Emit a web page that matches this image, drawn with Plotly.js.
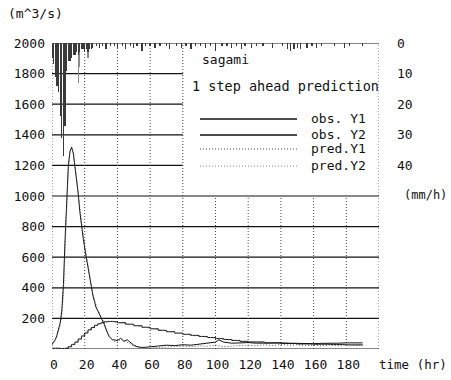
<!DOCTYPE html>
<html>
<head>
<meta charset="utf-8">
<script src="https://cdn.plot.ly/plotly-3.0.1.min.js"></script>
<style>
  html, body { margin: 0; padding: 0; background: #fff; }
  #chart { width: 451px; height: 380px; }
</style>
</head>
<body>
<div id="chart"></div>
<script>
// Sagami river flood event: discharge (m^3/s) and hourly rainfall (mm/h)

// observed discharge, upstream station Y1
const tY1 = [0,1,2,3,4,5,6,7,8,9,10,11,12,13,14,15,16,17,18,19,20,21,22,23,24,25,26,27,28,29,30,31,32,33,34,35,36,37,38,40,42,44,46,48,50,52,55,58,60,65,70,75,80,85,90,95,100,102,105,110,115,120,125,130,135,140,145,150,155,160,165,170,175,180,185,190];
const obsY1 = [30,45,60,90,130,170,250,420,720,1000,1200,1290,1320,1280,1200,1100,1020,900,800,730,660,600,530,460,400,350,310,270,250,230,210,190,160,130,100,80,70,60,60,55,70,50,60,40,25,15,10,12,15,20,25,22,28,25,32,35,45,60,45,38,40,42,38,40,42,40,38,36,38,35,37,36,38,40,40,40];

// one-step-ahead prediction for Y1
const tP1 = [0,1,2,3,4,5,6,7,8,9,10,11,12,13,14,15,16,17,18,19,20,21,22,23,24,25,26,27,28,29,30,31,32,33,34,35,36,37,38,40,42,44,46,48,50,55,60,65,70,75,80,85,90,95,100,105,110,115,120,125,130,135,140,145,150,155,160,165,170,175,180,185,190];
const predY1 = [25,40,55,80,120,160,220,360,640,950,1180,1300,1310,1290,1220,1120,1010,920,810,740,670,610,540,470,410,360,320,280,255,235,215,195,170,140,110,85,72,62,50,45,65,55,45,30,20,8,5,10,12,15,18,15,20,18,25,15,20,22,25,20,28,22,30,25,28,22,25,20,26,22,28,24,25];

// observed discharge, downstream station Y2
const tY2 = [0,5,8,10,12,14,16,18,20,22,24,26,28,30,32,34,36,38,40,45,50,55,60,65,70,75,80,85,90,95,100,105,110,115,120,130,140,150,160,170,180,190];
const obsY2 = [5,3,5,15,30,45,65,85,105,125,140,155,165,172,178,180,180,178,172,162,152,142,132,122,113,104,96,89,82,75,68,62,56,50,46,40,36,33,31,29,27,26];

// one-step-ahead prediction for Y2
const tP2 = [0,5,8,10,12,14,16,18,20,22,24,26,28,30,32,34,36,38,40,45,50,55,60,65,70,75,80,85,90,95,100,105,110,115,120,130,140,150,160,170,180,190];
const predY2 = [3,2,4,12,26,42,62,82,102,122,138,152,163,170,176,179,180,178,174,164,154,144,134,124,115,106,98,90,83,77,70,63,57,52,47,41,37,34,31,30,28,27];

// basin rainfall, gauge A (wet hours only)
const rainHourA = [0,1,2,3,4,5,6,7,8,9,10,11,12,13,14,15,16,17,18,19,20,21,22,23,24,25,27,29,31,33,36,38,40,43,45,48,50,52,55,57,60,63,66,70,72,76,79,82,85,88,91,94,97,100,104,107,110,113,116,118,122,125,129,135,141,144,146,148,150,152,156,159,162,165,173,179,182,190];
const rainDepthA = [5,7,11,14,16,24,31,37,27,9,6,6,5,4,4,3,4,3,2,2,3,2,3,2,2,1.5,1,1.5,1,2,1,1,1.5,1,2,1,1.5,1,2.5,1,1,1.5,1,1,2,1,1.5,1,2,1,1,1.5,1,2.5,1,1,1.5,1,2,1,1.5,1,1,1.5,1,2,2.5,2,1.5,2,1.5,1,1.5,1,1,1.5,1,1];

// basin rainfall, gauge B
const rainHourB = [3,4,5,6,16,17,22];
const rainDepthB = [9,12,15,20,13,8,5];

// axis ticks
const flowTicks = [0,200,400,600,800,1000,1200,1400,1600,1800,2000];
const flowLabels = ['','200','400','600','800','1000','1200','1400','1600','1800','2000'];
const timeTicks = [0,20,40,60,80,100,120,140,160,180,200];
const timeLabels = ['0','20','40','60','80','100','120','140','160','180',''];
const rainTicks = [0,10,20,30,40];

const FONT = 'DejaVu Sans Mono, Liberation Mono, monospace';
const INK = '#111';
const FINE_DOT = '1px,2px';

// plot-area pixel geometry helpers (paper coordinates)
const L = 52, T = 43, W = 327, H = 306;
const px = x => (x - L) / W;
const py = y => (T + H - y) / H;

// the note panel occupies the upper right of the plot: grid stops at its edges
const PANEL_T = 80;      // hours
const PANEL_Q = 1000;    // m^3/s

const traces = [
  {
    x: rainHourB, y: rainDepthB, type: 'bar', yaxis: 'y2',
    marker: { color: '#8a8a8a', line: { width: 0 } }, width: 0.7,
    hoverinfo: 'skip', showlegend: false
  },
  {
    x: rainHourA, y: rainDepthA, type: 'bar', yaxis: 'y2',
    marker: { color: '#3a3a3a', line: { width: 0 } }, width: 0.75,
    hoverinfo: 'skip', showlegend: false
  },
  {
    x: tY2, y: obsY2, type: 'scatter', mode: 'lines',
    line: { color: INK, width: 1, shape: 'hv' }, showlegend: false
  },
  {
    x: tP2, y: predY2, type: 'scatter', mode: 'lines',
    line: { color: '#777', width: 1, dash: FINE_DOT }, showlegend: false
  },
  {
    x: tY1, y: obsY1, type: 'scatter', mode: 'lines',
    line: { color: INK, width: 1 }, showlegend: false
  },
  {
    x: tP1, y: predY1, type: 'scatter', mode: 'lines',
    line: { color: '#555', width: 1, dash: FINE_DOT }, showlegend: false
  }
];

const shapes = [];

// horizontal grid (solid), cut at the panel
flowTicks.forEach(q => {
  const xEnd = (q > PANEL_Q && q < 2000) ? PANEL_T : 200;
  shapes.push({ type: 'line', xref: 'x', yref: 'y', x0: 0, x1: xEnd, y0: q, y1: q,
    line: { color: INK, width: 1.2 }, layer: 'below' });
});

// vertical grid (fine dots), cut at the panel
timeTicks.forEach(t => {
  const yEnd = (t > PANEL_T && t < 200) ? PANEL_Q : 2000;
  shapes.push({ type: 'line', xref: 'x', yref: 'y', x0: t, x1: t, y0: 0, y1: yEnd,
    line: { color: '#444', width: 1, dash: FINE_DOT }, layer: 'below' });
});

// legend keys
[
  [119, INK, 1.3, 'solid'],
  [135, INK, 1.3, 'solid'],
  [149, '#555', 1, FINE_DOT],
  [166, '#888', 1, FINE_DOT]
].forEach(k => {
  shapes.push({ type: 'line', xref: 'paper', yref: 'paper',
    x0: px(200), x1: px(297), y0: py(k[0]), y1: py(k[0]),
    line: { color: k[1], width: k[2], dash: k[3] } });
});

function note(text, x, y, anchor, size) {
  return { text: text, xref: 'paper', yref: 'paper', x: x, y: y,
           xanchor: anchor || 'left', yanchor: 'middle', showarrow: false,
           font: { family: FONT, size: size || 13, color: INK } };
}

const annotations = [
  note('(m^3/s)', px(6), py(14)),
  note('(mm/h)', px(449), py(195), 'right', 12),
  note('time (hr)', px(449), py(364), 'right', 12.5),
  note('sagami', px(200), py(59)),
  note('1 step ahead prediction', px(190), py(86), 'left', 13.5),
  note('obs. Y1', px(309), py(118)),
  note('obs. Y2', px(309), py(134)),
  note('pred.Y1', px(309), py(148)),
  note('pred.Y2', px(309), py(165))
];

const layout = {
  width: 451, height: 380,
  margin: { l: L, r: 451 - L - W, t: T, b: 380 - T - H },
  paper_bgcolor: '#fff', plot_bgcolor: '#fff',
  font: { family: FONT, size: 13, color: INK },
  showlegend: false,
  bargap: 0, barmode: 'overlay',
  xaxis: {
    range: [0, 200], tickmode: 'array', tickvals: timeTicks, ticktext: timeLabels,
    showgrid: false, zeroline: false, showline: false, ticks: '',
    ticklabelstandoff: 6, ticklabelshift: 2
  },
  yaxis: {
    range: [0, 2000], tickmode: 'array', tickvals: flowTicks, ticktext: flowLabels,
    showgrid: false, zeroline: false, showline: false, ticks: '', ticklabelstandoff: 6
  },
  yaxis2: {
    overlaying: 'y', side: 'right', range: [100, 0],
    tickmode: 'array', tickvals: rainTicks,
    showgrid: false, zeroline: false, showline: false, ticks: '',
    ticklabelstandoff: 17
  },
  shapes: shapes,
  annotations: annotations
};

Plotly.newPlot('chart', traces, layout, { staticPlot: true, displayModeBar: false });
</script>
</body>
</html>
